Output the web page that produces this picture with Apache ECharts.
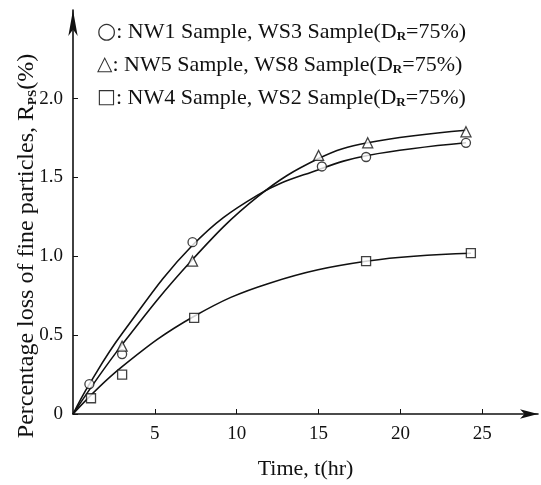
<!DOCTYPE html>
<html><head><meta charset="utf-8">
<script src="https://cdn.jsdelivr.net/npm/echarts@6/dist/echarts.min.js"></script>
<style>html,body{margin:0;padding:0;background:#fff}#c{width:541px;height:485px}</style>
</head><body><div id="c"></div>
<script>
// Measured points
const circleT = [1, 3, 7.3, 15.2, 17.9, 24];
const circleV = [0.19, 0.38, 1.09, 1.57, 1.63, 1.72];
const triT = [3, 7.3, 15, 18, 24];
const triV = [0.43, 0.97, 1.64, 1.72, 1.79];
const squareT = [1.1, 3, 7.4, 17.9, 24.3];
const squareV = [0.1, 0.25, 0.61, 0.97, 1.02];
// Fitted curves
const circleCurveT = [0, 1, 3, 7.3, 11.3, 15, 18, 24];
const circleCurveV = [0, 0.19, 0.51, 1.07, 1.39, 1.55, 1.64, 1.72];
const triCurveT = [0, 3, 7.3, 11.3, 15, 18, 24];
const triCurveV = [0, 0.44, 0.98, 1.38, 1.62, 1.72, 1.8];
const squareCurveT = [0, 3, 7.4, 12, 18, 24.3];
const squareCurveV = [0, 0.3, 0.62, 0.83, 0.97, 1.02];
const xTicks = [5, 10, 15, 20, 25];
const yTicks = [0, 0.5, 1.0, 1.5, 2.0];
const legendLines = [
  '{c|○}: NW1 Sample, WS3 Sample(D{sub|R}=75%)',
  '{t|△}: NW5 Sample, WS8 Sample(D{sub|R}=75%)',
  '{t|□}: NW4 Sample, WS2 Sample(D{sub|R}=75%)'
];

const FONT = "'Liberation Serif','DejaVu Serif',serif";
const zip = (a, b) => a.map((v, i) => [v, b[i]]);
const chart = echarts.init(document.getElementById('c'));
const markerStyle = {color: '#fff', borderColor: '#111', borderWidth: 1.3};
const lineSer = (t, v) => ({type: 'line', data: zip(t, v), smooth: 0.4, showSymbol: false,
  lineStyle: {color: '#111', width: 1.6}, z: 2, animation: false});
const scatSer = (t, v, sym, size) => ({type: 'scatter', data: zip(t, v), symbol: sym, symbolSize: size,
  itemStyle: markerStyle, z: 3, animation: false});

const sub = {fontSize: 13, fontWeight: 'bold', verticalAlign: 'bottom', fontFamily: FONT, fill: '#111', padding: [9, 0, 0, 0]};
const rich = {
  sub: sub,
  c: {fontSize: 22, fontFamily: "'DejaVu Sans',sans-serif", fill: '#333', verticalAlign: 'middle'},
  t: {fontSize: 20, fontFamily: "'DejaVu Sans',sans-serif", fill: '#333', verticalAlign: 'middle'}
};

chart.setOption({
  backgroundColor: '#fff',
  animation: false,
  grid: {left: 73, right: 3, top: 10, bottom: 65},
  xAxis: {
    type: 'value', min: 0, max: 28.4,
    name: 'Time, t(hr)', nameLocation: 'middle', nameGap: 44,
    nameTextStyle: {fontFamily: FONT, fontSize: 22, color: '#111'},
    axisLine: {lineStyle: {color: '#111', width: 1.6}, symbol: ['none', 'arrow'], symbolSize: [7, 18]},
    axisTick: {inside: true, length: 5, customValues: xTicks, lineStyle: {color: '#111'}},
    axisLabel: {customValues: xTicks, fontFamily: FONT, fontSize: 19, color: '#111', margin: 11},
    splitLine: {show: false}
  },
  yAxis: {
    type: 'value', min: 0, max: 2.5625,
    axisLine: {show: true, lineStyle: {color: '#111', width: 1.6}, symbol: ['none', 'arrow'], symbolSize: [7, 26]},
    axisTick: {show: true, inside: true, length: 5, customValues: yTicks, lineStyle: {color: '#111'}},
    axisLabel: {customValues: yTicks, fontFamily: FONT, fontSize: 19, color: '#111', margin: 10,
      formatter: v => v === 0 ? '0' : v.toFixed(1)},
    splitLine: {show: false}
  },
  graphic: [
    {type: 'text', x: 27, y: 246, rotation: Math.PI / 2, style: {
      text: 'Percentage loss of fine particles, R{sub|PS}(%)', align: 'center', verticalAlign: 'middle',
      font: '24px ' + FONT, fill: '#111', rich: {sub: sub}}},
    ...legendLines.map((t, i) => ({type: 'text', left: 97, top: 21 + i * 33, style: {
      text: t, font: '22px ' + FONT, fill: '#111', rich: rich}}))
  ],
  series: [
    lineSer(circleCurveT, circleCurveV),
    lineSer(triCurveT, triCurveV),
    lineSer(squareCurveT, squareCurveV),
    scatSer(circleT, circleV, 'circle', 9),
    scatSer(triT, triV, 'triangle', 10),
    scatSer(squareT, squareV, 'rect', 9)
  ]
});
</script></body></html>
